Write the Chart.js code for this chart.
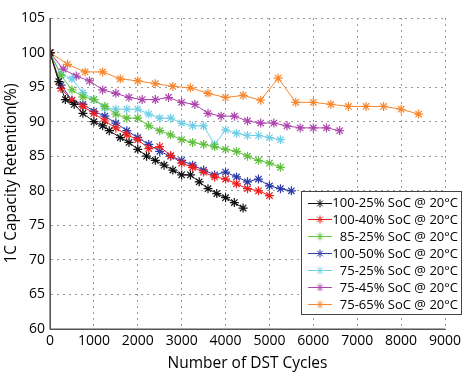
<!DOCTYPE html>
<html><head><meta charset="utf-8">
<script src="https://cdn.jsdelivr.net/npm/chart.js@4/dist/chart.umd.min.js"></script>
<style>html,body{margin:0;padding:0;background:#fff}#wrap{width:474px;height:379px}</style>
</head><body><div id="wrap"><canvas id="c" width="474" height="379"></canvas></div>
<script>
const labels = ["100-25% SoC @ 20°C","100-40% SoC @ 20°C","85-25% SoC @ 20°C","100-50% SoC @ 20°C","75-25% SoC @ 20°C","75-45% SoC @ 20°C","75-65% SoC @ 20°C"];
const xTicks = [0,1000,2000,3000,4000,5000,6000,7000,8000,9000];
const yTicks = [60,65,70,75,80,85,90,95,100,105];

const cyc_100_25 = [0,200,350,550,750,1000,1200,1350,1600,1800,2000,2200,2400,2600,2800,3000,3200,3400,3600,3800,4000,4200,4400];
const ret_100_25 = [100,95.8,93.2,92.5,91.2,90.0,89.4,88.7,87.7,87.0,86.0,85.0,84.4,83.7,83.0,82.3,82.3,81.3,80.3,79.6,79.0,78.3,77.5];

const cyc_100_40 = [0,250,500,750,1000,1250,1500,1750,2000,2250,2500,2750,3000,3250,3500,3750,4000,4250,4500,4750,5000];
const ret_100_40 = [100,94.8,93.1,92.2,91.2,90.1,89.1,88.1,87.4,86.1,86.4,85.1,84.0,83.4,82.7,82.0,81.7,81.0,80.3,80.0,79.3];

const cyc_85_25 = [0,250,500,750,1000,1250,1500,1750,2000,2250,2500,2750,3000,3250,3500,3750,4000,4250,4500,4750,5000,5250];
const ret_85_25 = [100,96.7,94.6,93.6,93.2,92.2,91.1,90.5,90.5,89.4,88.7,88.1,87.4,87.0,86.7,86.4,86.0,85.7,85.0,84.4,84.0,83.4];

const cyc_100_50 = [0,250,500,750,1000,1250,1500,1750,2000,2250,2500,2750,3000,3250,3500,3750,4000,4250,4500,4750,5000,5250,5500];
const ret_100_50 = [100,95.3,93.1,92.5,91.5,90.8,89.8,88.7,87.7,86.7,85.7,85.0,84.4,83.7,83.0,82.3,82.7,82.0,81.3,81.7,80.7,80.3,80.0];

const cyc_75_25 = [0,250,500,750,1000,1250,1500,1750,2000,2250,2500,2750,3000,3250,3500,3750,4000,4250,4500,4750,5000,5250];
const ret_75_25 = [100,96.8,96.2,94.2,93.2,92.0,91.8,91.8,91.8,91.1,90.5,90.5,89.8,89.4,89.4,86.7,88.8,88.3,88.0,88.0,87.7,87.4];

const cyc_75_45 = [0,300,600,900,1200,1500,1800,2100,2400,2700,3000,3300,3600,3900,4200,4500,4800,5100,5400,5700,6000,6300,6600];
const ret_75_45 = [100,97.6,96.6,95.9,94.6,94.1,93.5,93.2,93.2,93.5,92.8,92.5,91.2,90.8,90.8,90.1,89.8,89.8,89.4,89.1,89.1,89.1,88.7];

const cyc_75_65 = [0,400,800,1200,1600,2000,2400,2800,3200,3600,4000,4400,4800,5200,5600,6000,6400,6800,7200,7600,8000,8400];
const ret_75_65 = [100,98.3,97.2,97.2,96.2,95.9,95.5,95.1,94.9,94.1,93.5,93.8,93.1,96.3,92.8,92.8,92.5,92.2,92.2,92.2,91.8,91.1];

const colors = ["#111111","#ee1c1c","#5fbf3c","#2b3aa8","#6fcfe8","#ad45ad","#f7862d"];
const series = [
  [cyc_100_25, ret_100_25],[cyc_100_40, ret_100_40],[cyc_85_25, ret_85_25],[cyc_100_50, ret_100_50],
  [cyc_75_25, ret_75_25],[cyc_75_45, ret_75_45],[cyc_75_65, ret_75_65]
];
const datasets = series.map((s,i)=>({
  label: labels[i],
  data: s[0].map((x,j)=>({x:x,y:s[1][j]})),
  borderColor: colors[i], backgroundColor: colors[i],
  borderWidth: 1, pointStyle: 'star', pointRadius: 4.5, pointBorderWidth: 1.2,
  pointBorderColor: colors[i], tension: 0
}));

const FONT = "'Open Sans', sans-serif";

const legendBox = {
  id: 'legendBox',
  afterDraw(chart) {
    const ctx = chart.ctx;
    const x0 = 301, y0 = 191, w = 160, h = 123;
    ctx.save();
    ctx.fillStyle = '#fff';
    ctx.fillRect(x0, y0, w, h);
    ctx.strokeStyle = '#444'; ctx.lineWidth = 1;
    ctx.strokeRect(x0 + 0.5, y0 + 0.5, w, h);
    ctx.font = "13px " + FONT;
    ctx.textAlign = 'right'; ctx.textBaseline = 'middle';
    chart.data.datasets.forEach((ds, i) => {
      const cy = 202.5 + i * 16.9;
      ctx.strokeStyle = ds.borderColor; ctx.fillStyle = ds.borderColor; ctx.lineWidth = 1;
      ctx.beginPath(); ctx.moveTo(308, Math.round(cy)+0.5); ctx.lineTo(332, Math.round(cy)+0.5); ctx.stroke();
      Chart.helpers.drawPoint(ctx, {pointStyle:'star', radius:4, borderWidth:1}, 320, Math.round(cy)+0.5);
      ctx.fillStyle = '#000';
      ctx.fillText(ds.label, 458, cy + 1);
    });
    ctx.restore();
  }
};

new Chart(document.getElementById('c'), {
  type: 'line',
  data: { datasets },
  options: {
    responsive: false, animation: false, devicePixelRatio: 1,
    layout: { padding: { top: 18, right: 29, left: 0, bottom: 0 } },
    plugins: { legend: { display: false }, tooltip: { enabled: false } },
    scales: {
      x: {
        type: 'linear', min: 0, max: 9000,
        afterBuildTicks: (s) => { s.ticks = xTicks.map(v => ({value: v})); },
        afterFit: (s) => { s.height = 50; },
        grid: { color: '#999999', lineWidth: 1, drawTicks: false, borderDash: [2,4] },
        border: { display: true, color: '#555', width: 1, dash: [2,4] },
        ticks: { color: '#000', font: { size: 14, family: FONT }, padding: 4, maxRotation: 0, autoSkip: false, callback: v => String(v) },
        title: { display: true, text: 'Number of DST Cycles', color: '#000', font: { size: 15.5, family: FONT }, padding: { top: 0, bottom: 6 } }
      },
      y: {
        type: 'linear', min: 60, max: 105,
        afterBuildTicks: (s) => { s.ticks = yTicks.map(v => ({value: v})); },
        afterFit: (s) => { s.width = 50; },
        grid: { color: '#999999', lineWidth: 1, drawTicks: false, borderDash: [2,4] },
        border: { display: true, color: '#555', width: 1, dash: [2,4] },
        ticks: { color: '#000', font: { size: 14, family: FONT }, padding: 5, autoSkip: false, callback: v => String(v) },
        title: { display: true, text: '1C Capacity Retention(%)', color: '#000', font: { size: 15.5, family: FONT }, padding: { top: 2, bottom: 0 } }
      }
    }
  },
  plugins: [legendBox, {
    id: 'axesSolid',
    afterDraw(chart) {
      const {ctx, chartArea: a} = chart;
      ctx.save(); ctx.strokeStyle = '#555'; ctx.lineWidth = 1.2;
      ctx.beginPath();
      ctx.moveTo(a.left, a.top); ctx.lineTo(a.left, a.bottom); ctx.lineTo(a.right, a.bottom);
      ctx.stroke(); ctx.restore();
    }
  }]
});
</script>
</body></html>
